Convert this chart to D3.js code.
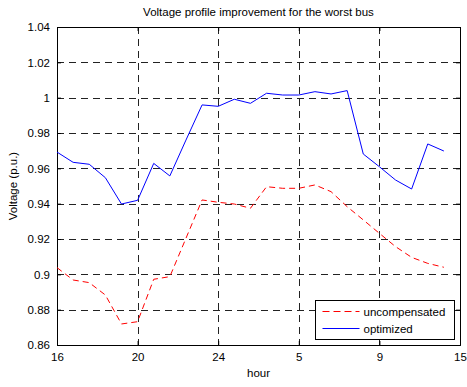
<!DOCTYPE html>
<html>
<head>
<meta charset="utf-8">
<script src="https://cdn.jsdelivr.net/npm/d3@7"></script>
<style>
  body { margin: 0; background: #fff; }
  text { font-family: "Liberation Sans", Arial, sans-serif; }
</style>
</head>
<body>
<div id="chart"></div>
<script>
// hour labels placed every 5 samples
const tickLabels = ['16', '20', '24', '5', '9', '15'];
const tickIndex = [0, 5, 10, 15, 20, 25];
const yTicks = [0.86, 0.88, 0.9, 0.92, 0.94, 0.96, 0.98, 1, 1.02, 1.04];

const uncompensated = [0.9038, 0.8968, 0.8953, 0.8883, 0.8719, 0.8732, 0.8972, 0.8987, 0.9204, 0.9421,
  0.9408, 0.9398, 0.9374, 0.9496, 0.9487, 0.9487, 0.9506, 0.9468, 0.9383, 0.9308,
  0.9232, 0.9157, 0.9096, 0.9062, 0.9040];
const optimized = [0.9692, 0.9634, 0.9623, 0.9547, 0.9398, 0.9419, 0.9628, 0.9557, 0.9760, 0.9959,
  0.9951, 0.9991, 0.9968, 1.0025, 1.0015, 1.0015, 1.0034, 1.0021, 1.0040, 0.9681,
  0.9609, 0.9534, 0.9483, 0.9738, 0.9698];

const W = 467, H = 387;
const margin = { top: 27, right: 7, bottom: 42, left: 57 };
const width = W - margin.left - margin.right;
const height = H - margin.top - margin.bottom;
const fs = 11.5;

const svg = d3.select('#chart').append('svg')
  .attr('width', W).attr('height', H);

const g = svg.append('g')
  .attr('transform', `translate(${margin.left},${margin.top})`);

const x = d3.scaleLinear().domain([0, 25]).range([0, width]);
const y = d3.scaleLinear().domain([0.86, 1.04]).range([height, 0]);

// grid
g.append('g').selectAll('line').data(tickIndex.slice(1, -1)).enter().append('line')
  .attr('x1', d => Math.round(x(d)) + 0.5).attr('x2', d => Math.round(x(d)) + 0.5)
  .attr('y1', 0).attr('y2', height)
  .attr('stroke', '#222').attr('stroke-width', 1).attr('stroke-dasharray', '7,5');
g.append('g').selectAll('line').data(yTicks.slice(1, -1)).enter().append('line')
  .attr('y1', d => Math.round(y(d)) + 0.5).attr('y2', d => Math.round(y(d)) + 0.5)
  .attr('x1', 0).attr('x2', width)
  .attr('stroke', '#222').attr('stroke-width', 1).attr('stroke-dasharray', '7,5');

// axes (inside ticks, boxed)
const fmtY = d => d3.format('')(+d.toFixed(2));
g.append('g').attr('transform', `translate(0,${height})`)
  .call(d3.axisBottom(x).tickValues(tickIndex).tickSize(-4).tickPadding(8)
    .tickFormat((d, i) => tickLabels[i]));
g.append('g')
  .call(d3.axisTop(x).tickValues(tickIndex).tickSize(-4).tickFormat(''));
g.append('g')
  .call(d3.axisLeft(y).tickValues(yTicks).tickSize(-4).tickPadding(7).tickFormat(fmtY));
g.append('g').attr('transform', `translate(${width},0)`)
  .call(d3.axisRight(y).tickValues(yTicks).tickSize(-4).tickFormat(''));

g.selectAll('.domain').attr('stroke', '#000');
g.selectAll('.tick line').attr('stroke', '#000');
g.selectAll('.tick text').attr('font-size', fs).attr('fill', '#000')
  .attr('font-family', '"Liberation Sans", Arial, sans-serif');

// lines
const line = d3.line().x((d, i) => x(i)).y(d => y(d));
g.append('path').datum(uncompensated)
  .attr('d', line).attr('fill', 'none')
  .attr('stroke', '#ff0000').attr('stroke-width', 1).attr('stroke-dasharray', '6,4');
g.append('path').datum(optimized)
  .attr('d', line).attr('fill', 'none')
  .attr('stroke', '#0000ff').attr('stroke-width', 1);

// titles
svg.append('text').attr('x', margin.left + width / 2).attr('y', 16)
  .attr('text-anchor', 'middle').attr('font-size', fs).text('Voltage profile improvement for the worst bus');
svg.append('text').attr('x', margin.left + width / 2).attr('y', 377)
  .attr('text-anchor', 'middle').attr('font-size', fs).text('hour');
svg.append('text').attr('transform', `translate(17,${margin.top + height / 2}) rotate(-90)`)
  .attr('text-anchor', 'middle').attr('font-size', fs).text('Voltage (p.u.)');

// legend
const legend = svg.append('g').attr('transform', 'translate(315.5,300.5)');
legend.append('rect').attr('width', 139).attr('height', 39)
  .attr('fill', '#fff').attr('stroke', '#000');
const items = [
  { name: 'uncompensated', color: '#ff0000', dash: '7,4' },
  { name: 'optimized', color: '#0000ff', dash: null }
];
items.forEach((it, i) => {
  const yy = 11 + i * 17;
  legend.append('line').attr('x1', 7).attr('x2', 44).attr('y1', yy).attr('y2', yy)
    .attr('stroke', it.color).attr('stroke-dasharray', it.dash);
  legend.append('text').attr('x', 48).attr('y', yy + 4).attr('font-size', fs).text(it.name);
});
</script>
</body>
</html>
